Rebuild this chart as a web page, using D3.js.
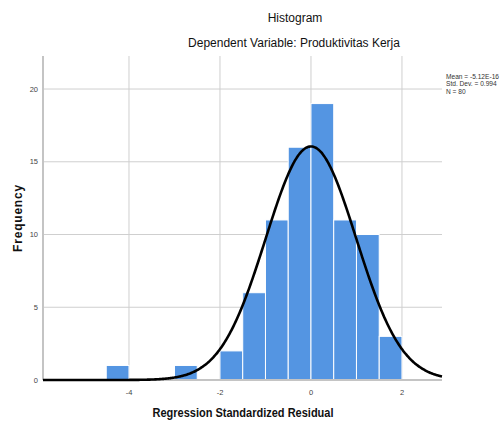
<!DOCTYPE html>
<html><head><meta charset="utf-8">
<script src="https://cdn.jsdelivr.net/npm/d3@7"></script>
<style>body{margin:0;background:#fff}svg{display:block}text{font-family:"Liberation Sans",Arial,sans-serif}</style>
</head><body>
<script>
const binStarts = [-4.5, -3.0, -2.0, -1.5, -1.0, -0.5, 0.0, 0.5, 1.0, 1.5];
const binCounts = [1, 1, 2, 6, 11, 16, 19, 11, 10, 3];
const binWidth = 0.5;
const xTicks = [-4, -2, 0, 2];
const yTicks = [0, 5, 10, 15, 20];
const stats = {mean: 0, sd: 0.994, n: 80};
const legendLines = ["Mean = -5.12E-16", "Std. Dev. = 0.994", "N = 80"];

(function () {
const W = 504, H = 426;
const svg = d3.select("body").append("svg").attr("width", W).attr("height", H);
const pL = 43, pR = 442, pT = 56, pB = 380;
const x = d3.scaleLinear().domain([-5.89, 2.88]).range([pL, pR]);
const y = d3.scaleLinear().domain([0, 22.27]).range([pB, pT]);

// gridlines
svg.append("g").selectAll("line").data(yTicks.filter(d => d > 0)).join("line")
  .attr("x1", pL).attr("x2", pR).attr("y1", d => y(d)).attr("y2", d => y(d))
  .attr("stroke", "#cfcfcf").attr("stroke-width", 1);
svg.append("g").selectAll("line").data(xTicks).join("line")
  .attr("x1", d => x(d)).attr("x2", d => x(d)).attr("y1", pT).attr("y2", pB)
  .attr("stroke", "#cfcfcf").attr("stroke-width", 1);

// bars
svg.append("g").selectAll("rect").data(binStarts.map((s, i) => ({s, c: binCounts[i]}))).join("rect")
  .attr("x", d => x(d.s)).attr("width", d => x(d.s + binWidth) - x(d.s))
  .attr("y", d => y(d.c)).attr("height", d => y(0) - y(d.c))
  .attr("fill", "#5495e2").attr("stroke", "#ffffff").attr("stroke-width", 1);

// axis lines
svg.append("line").attr("x1", pL).attr("x2", pL).attr("y1", pT).attr("y2", pB)
  .attr("stroke", "#c4c4c4").attr("stroke-width", 2);
svg.append("line").attr("x1", pL).attr("x2", pR).attr("y1", pB).attr("y2", pB)
  .attr("stroke", "#c4c4c4").attr("stroke-width", 2);

// normal curve
const dom = x.domain();
const pts = d3.range(0, 401).map(i => dom[0] + (dom[1] - dom[0]) * i / 400);
const dens = v => stats.n * binWidth / (stats.sd * Math.sqrt(2 * Math.PI)) * Math.exp(-0.5 * ((v - stats.mean) / stats.sd) ** 2);
svg.append("path").datum(pts)
  .attr("d", d3.line().x(d => x(d)).y(d => y(dens(d))).curve(d3.curveBasis))
  .attr("fill", "none").attr("stroke", "#000").attr("stroke-width", 2.6);

// tick labels
svg.append("g").selectAll("text").data(yTicks).join("text")
  .attr("x", pL - 5).attr("y", d => y(d) + 2.5).attr("text-anchor", "end")
  .attr("font-size", 7.5).attr("fill", "#444").text(d => d);
svg.append("g").selectAll("text").data(xTicks).join("text")
  .attr("x", d => x(d)).attr("y", pB + 15).attr("text-anchor", "middle")
  .attr("font-size", 7.5).attr("fill", "#444").text(d => d);

// titles
svg.append("text").attr("x", 295).attr("y", 22).attr("text-anchor", "middle")
  .attr("font-size", 12).attr("fill", "#111").text("Histogram");
svg.append("text").attr("x", 294).attr("y", 47).attr("text-anchor", "middle")
  .attr("font-size", 12).attr("fill", "#111").text("Dependent Variable: Produktivitas Kerja");
svg.append("text").attr("x", 243).attr("y", 417).attr("text-anchor", "middle")
  .attr("font-size", 12).attr("font-weight", "bold").attr("fill", "#111")
  .attr("textLength", 181).attr("lengthAdjust", "spacingAndGlyphs").text("Regression Standardized Residual");
svg.append("text").attr("transform", "translate(22,218) rotate(-90)").attr("text-anchor", "middle")
  .attr("font-size", 12).attr("font-weight", "bold").attr("fill", "#111")
  .attr("letter-spacing", 0.8).text("Frequency");

// legend
svg.append("g").selectAll("text").data(legendLines).join("text")
  .attr("x", 446).attr("y", (d, i) => 79 + i * 7.4)
  .attr("font-size", 6.6).attr("fill", "#333").text(d => d);
})();
</script>
</body></html>
